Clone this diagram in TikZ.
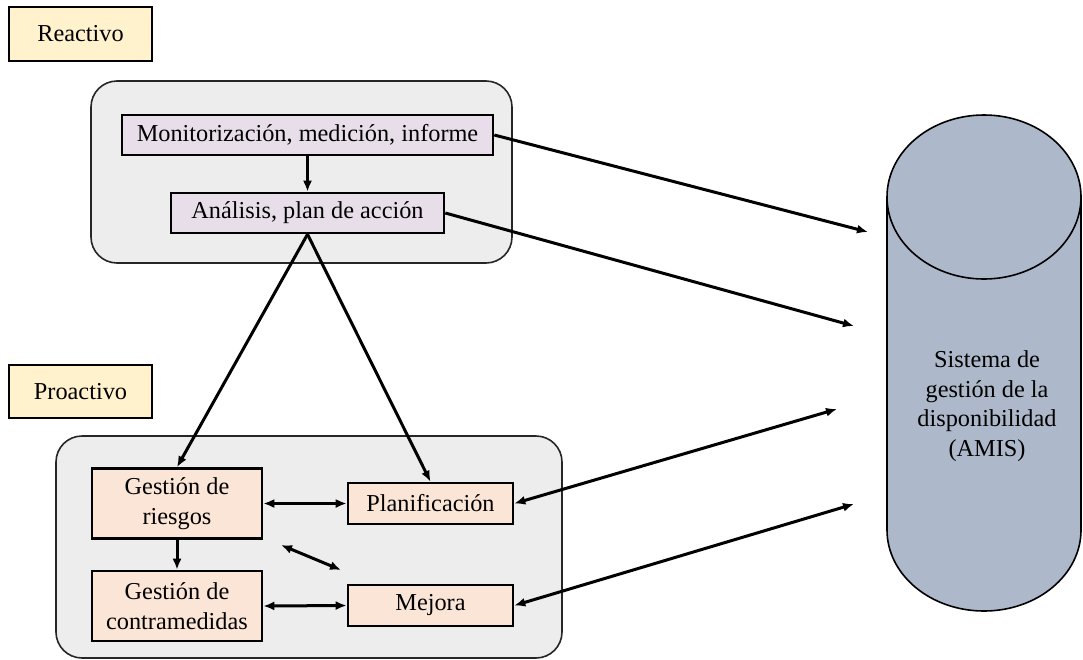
\documentclass[tikz,border=0pt]{standalone}
\usepackage{fontspec}
\setmainfont{Liberation Serif}
\usetikzlibrary{arrows.meta}
\definecolor{tagfill}{HTML}{FFF2CC}
\definecolor{groupfill}{HTML}{EDEDED}
\definecolor{reactfill}{HTML}{E8DEEA}
\definecolor{proactfill}{HTML}{FBE5D6}
\definecolor{dbfill}{HTML}{ADB9CA}
\begin{document}
\begin{tikzpicture}[x=1pt,y=1pt,
  every node/.style={font=\fontsize{24.3}{29.5}\selectfont, inner sep=0pt, align=center},
  tagbox/.style={draw=black, line width=2.6pt, fill=tagfill},
  groupbox/.style={draw=black!85, line width=1.6pt, fill=groupfill, rounded corners=26pt},
  reactbox/.style={draw=black, line width=2.6pt, fill=reactfill},
  proactbox/.style={draw=black, line width=2.6pt, fill=proactfill},
  conn/.style={line width=3pt, -{Latex[length=11pt,width=9pt]}},
  bconn/.style={line width=3pt, {Latex[length=11pt,width=9pt]}-{Latex[length=11pt,width=9pt]}}
]
\useasboundingbox (0,0) rectangle (1083,-659);

% category labels
\node[tagbox, minimum width=143pt, minimum height=54pt] (reactivo) at (80.5,-34) {Reactivo};
\node[tagbox, minimum width=143pt, minimum height=53pt] (proactivo) at (80.5,-391.5) {Proactivo};

% group backgrounds
\node[groupbox, minimum width=421pt, minimum height=182pt] (greact) at (301.5,-172) {};
\node[groupbox, minimum width=506pt, minimum height=222pt] (gpro) at (309,-547) {};

% reactive steps
\node[reactbox, minimum width=371pt, minimum height=40pt] (monit) at (307.5,-135) {Monitorización, medición, informe};
\node[reactbox, minimum width=273pt, minimum height=40pt] (anal) at (307.5,-213) {Análisis, plan de acción};

% proactive steps
\node[proactbox, minimum width=170pt, minimum height=70pt] (riesgos) at (177,-503.5) {Gestión de\\riesgos};
\node[proactbox, minimum width=170pt, minimum height=70pt] (contra) at (177,-606) {Gestión de\\contramedidas};
\node[proactbox, minimum width=165pt, minimum height=41pt] (planif) at (430.5,-503.5) {Planificación};
\node[proactbox, minimum width=165pt, minimum height=41pt] (mejora) at (430.5,-605.5) {Mejora};

% database cylinder
\fill[dbfill] (887,-197) -- (887,-530) arc[start angle=180, end angle=360, x radius=97pt, y radius=81pt] -- (1081,-197) -- cycle;
\draw[line width=1.6pt, fill=dbfill] (984,-197) ellipse[x radius=97pt, y radius=82pt];
\draw[line width=1.6pt] (887,-197) -- (887,-530) arc[start angle=180, end angle=360, x radius=97pt, y radius=81pt] -- (1081,-197);
\node (amis) at (987,-406) {Sistema de\\gestión de la\\disponibilidad\\(AMIS)};

% loose ends of the connectors near the cylinder
\coordinate (c1) at (868,-232);
\coordinate (c2) at (854,-326);
\coordinate (c3) at (837,-409);
\coordinate (c4) at (854,-504);
\coordinate (d1) at (281,-545);
\coordinate (d2) at (341,-570);

% connectors
\draw[conn] (monit.south) -- (anal.north);
\draw[conn] (anal.south) -- (riesgos.north);
\draw[conn] (anal.south) -- (planif.north);
\draw[conn] (riesgos.south) -- (contra.north);
\draw[bconn] (riesgos.east) -- (planif.west);
\draw[bconn] (contra.east) -- (mejora.west);
\draw[bconn] (d1) -- (d2);
\draw[conn] (monit.east) -- (c1);
\draw[conn] (anal.east) -- (c2);
\draw[bconn] (planif.east) -- (c3);
\draw[bconn] (mejora.east) -- (c4);
\end{tikzpicture}
\end{document}
